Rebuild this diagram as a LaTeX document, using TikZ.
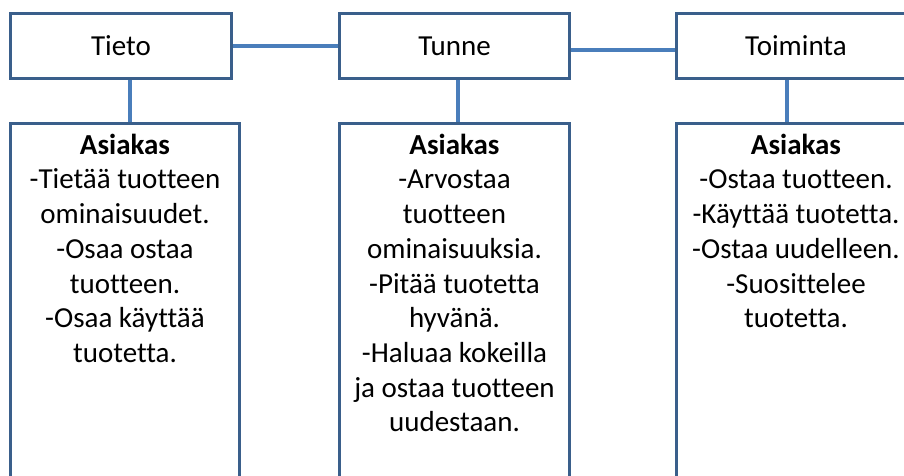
\documentclass[tikz,border=0pt]{standalone}
\usepackage{fontspec}
\setmainfont[Ligatures=CommonOff]{Carlito}
\definecolor{boxline}{HTML}{3A5F8B}
\definecolor{linkline}{HTML}{4A7EBB}
\tikzset{
  headbox/.style={draw=boxline, line width=2pt, fill=white, rectangle,
    minimum height=64pt, inner sep=0pt, text height=20pt, text depth=2pt,
    font=\fontsize{29}{34.7}\selectfont},
  bodybox/.style={draw=boxline, line width=2pt, fill=white, rectangle,
    minimum height=376pt, inner sep=0pt},
  bodytext/.style={anchor=north, inner sep=0pt, align=center,
    font=\fontsize{29}{34.7}\selectfont},
  link/.style={draw=linkline, line width=3.5pt}
}
\newcommand{\firstline}{\rule{0pt}{24pt}}
\begin{document}
\begin{tikzpicture}[x=1pt, y=-1pt]
  \path[use as bounding box] (0,0) rectangle (904,475);
  \clip (0,0) rectangle (904,475);

  % header boxes
  \node[headbox, minimum width=220pt] (tieto) at (121,46) {Tieto};
  \node[headbox, minimum width=229pt] (tunne) at (454.5,46) {Tunne};
  \node[headbox, minimum width=238pt] (toiminta) at (796,46) {Toiminta};

  % description boxes
  \node[bodybox, minimum width=228pt] (b1) at (125,312) {};
  \node[bodybox, minimum width=229pt] (b2) at (454.5,312) {};
  \node[bodybox, minimum width=238pt] (b3) at (796,312) {};

  % connectors
  \draw[link] (tieto.east) -- (tunne.west);
  \draw[link] ([yshift=-4pt]tunne.east) -- ([yshift=-4pt]toiminta.west);
  \draw[link] ([xshift=9pt]tieto.south) -- ([xshift=9pt]tieto.south |- b1.north);
  \draw[link] ([xshift=3.5pt]tunne.south) -- ([xshift=3.5pt]tunne.south |- b2.north);
  \draw[link] ([xshift=-9pt]toiminta.south) -- ([xshift=-9pt]toiminta.south |- b3.north);

  % redraw box outlines over the connector ends
  \foreach \n in {tieto,tunne,toiminta,b1,b2,b3}
    \draw[boxline, line width=2pt] (\n.north west) rectangle (\n.south east);

  % texts
  \node[bodytext] (t1) at ([yshift=-7pt]b1.north) {\firstline\textbf{Asiakas}\\-Tietää tuotteen\\ominaisuudet.\\-Osaa ostaa\\tuotteen.\\-Osaa käyttää\\tuotetta.};
  \node[bodytext] (t2) at ([yshift=-7pt]b2.north) {\firstline\textbf{Asiakas}\\-Arvostaa\\tuotteen\\ominaisuuksia.\\-Pitää tuotetta\\hyvänä.\\-Haluaa kokeilla\\ja ostaa tuotteen\\uudestaan.};
  \node[bodytext] (t3) at ([yshift=-7pt]b3.north) {\firstline\textbf{Asiakas}\\-Ostaa tuotteen.\\-Käyttää tuotetta.\\-Ostaa uudelleen.\\-Suosittelee\\tuotetta.};
\end{tikzpicture}
\end{document}
